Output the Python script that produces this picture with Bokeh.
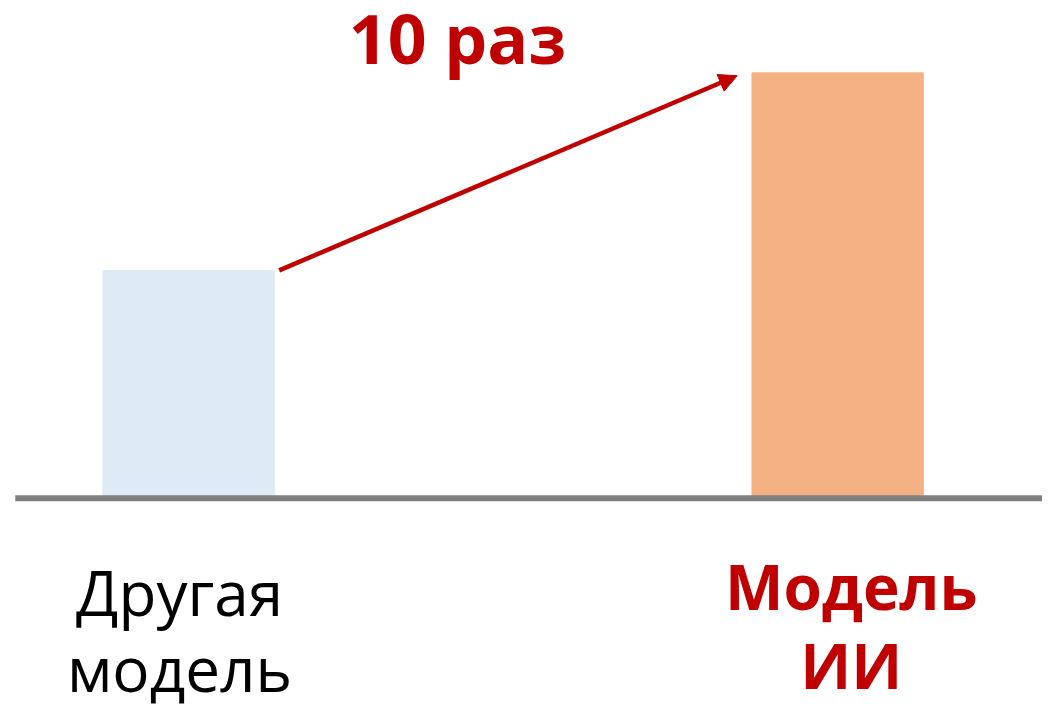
from bokeh.plotting import figure
from bokeh.models import Range1d, Arrow, NormalHead, ColumnDataSource
from bokeh.core.properties import value
from bokeh.embed import file_html
from bokeh.resources import INLINE

categories = ["Другая модель", "Модель ИИ"]
label_lines = [["Другая", "модель"], ["Модель", "ИИ"]]
values = [2.33, 4.35]
bar_colors = ["#DEEAF6", "#F4B183"]
label_colors = ["#000000", "#C00000"]
label_styles = ["normal", "bold"]
multiplier_text = "10 раз"

RED = "#C00000"
FONT = "Open Sans"

p = figure(width=1042, height=704, output_backend="svg", toolbar_location=None,
           x_range=Range1d(-0.2898, 1.3156), y_range=Range1d(-2.11, 5.09),
           x_axis_location=None, y_axis_location=None, min_border=0)
p.outline_line_color = None
p.grid.visible = False
p.background_fill_color = "white"

xs = list(range(len(categories)))
src = ColumnDataSource(dict(x=xs, top=values, color=bar_colors))
p.vbar(x="x", top="top", bottom=0, width=0.264, color="color", source=src)

# baseline
p.segment(x0=[-0.267], y0=[0], x1=[1.32], y1=[0], line_color="#808080", line_width=6)

# arrow from bar 1 top to bar 2 top
p.add_layout(Arrow(end=NormalHead(size=18, fill_color=RED, line_color=RED, line_width=1),
                   x_start=xs[0] + 0.1396, y_start=values[0],
                   x_end=xs[1] - 0.1548, y_end=values[1] - 0.03,
                   line_color=RED, line_width=4.5))

def comp(px):
    return 0.4 * px / 100.0

# multiplier text
fs_big = 68
p.text(x=[0.4143], y=[4.44 + comp(fs_big)], text=[multiplier_text], text_font=value(FONT),
       text_font_size=f"{fs_big}px", text_font_style="bold", text_color=RED,
       text_align="center", text_baseline="alphabetic")

# category labels
fs = 62
line_y = [[-1.21, -1.98], [-1.15, -1.95]]
x_off = [-0.014, 0.021]
for i in xs:
    for j, t in enumerate(label_lines[i]):
        p.text(x=[xs[i] + x_off[i]], y=[line_y[i][j] + comp(fs)], text=[t], text_font=value(FONT),
               text_font_size=f"{fs}px", text_font_style=label_styles[i],
               text_color=label_colors[i], text_align="center", text_baseline="alphabetic")

open("out.html", "w").write(file_html(p, INLINE))
